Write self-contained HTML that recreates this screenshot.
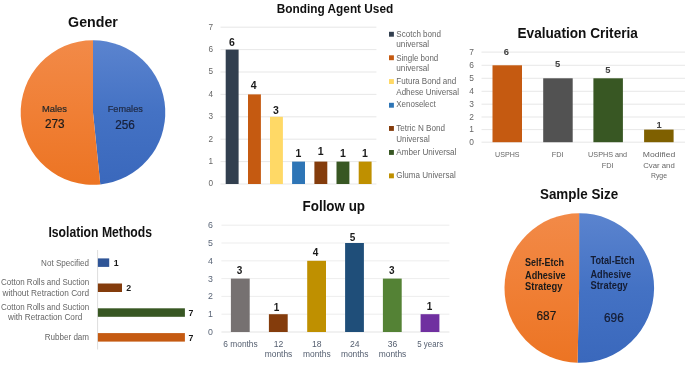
<!DOCTYPE html>
<html lang="en"><head><meta charset="utf-8"><title>Study characteristics</title>
<style>html,body{margin:0;padding:0;background:#fff;}body{width:685px;height:371px;overflow:hidden;}svg{display:block;font-family:'Liberation Sans', sans-serif;}</style>
</head><body>
<svg width="685" height="371" viewBox="0 0 685 371">
<defs>
<linearGradient id="gb" x1="0" y1="0" x2="0" y2="1"><stop offset="0" stop-color="#5B84CF"/><stop offset="0.5" stop-color="#4472C4"/><stop offset="1" stop-color="#3A68BC"/></linearGradient>
<linearGradient id="go" x1="0" y1="0" x2="0" y2="1"><stop offset="0" stop-color="#F28A48"/><stop offset="0.5" stop-color="#F07F35"/><stop offset="1" stop-color="#EC7423"/></linearGradient>
</defs>
<rect x="0" y="0" width="685" height="371" fill="#ffffff"/>
<text x="93.0" y="27.2" font-size="14.6" text-anchor="middle" fill="#111" font-weight="bold" textLength="49.8" lengthAdjust="spacingAndGlyphs">Gender</text>
<path d="M93.0,112.5 L93.0,40.2 A72.3,72.3 0 0 1 100.29,184.43 Z" fill="url(#gb)"/>
<path d="M93.0,112.5 L100.29,184.43 A72.3,72.3 0 1 1 93.0,40.2 Z" fill="url(#go)"/>
<text x="54.5" y="112.4" font-size="9.8" text-anchor="middle" fill="#2a2a2a" textLength="25.0" lengthAdjust="spacingAndGlyphs" stroke="#2a2a2a" stroke-width="0.22">Males</text>
<text x="54.8" y="127.9" font-size="12.3" text-anchor="middle" fill="#1a1a1a" textLength="19.6" lengthAdjust="spacingAndGlyphs" stroke="#1a1a1a" stroke-width="0.22">273</text>
<text x="125.3" y="112.2" font-size="9.8" text-anchor="middle" fill="#1f2a44" textLength="35.0" lengthAdjust="spacingAndGlyphs" stroke="#1f2a44" stroke-width="0.22">Females</text>
<text x="125.1" y="129.2" font-size="12.3" text-anchor="middle" fill="#17203a" textLength="19.6" lengthAdjust="spacingAndGlyphs" stroke="#17203a" stroke-width="0.22">256</text>
<text x="335.0" y="13.2" font-size="12.3" text-anchor="middle" fill="#111" font-weight="bold" textLength="116.5" lengthAdjust="spacingAndGlyphs">Bonding Agent Used</text>
<line x1="220.5" y1="184.0" x2="376.4" y2="184.0" stroke="#E1E1E1" stroke-width="0.8"/>
<text x="210.7" y="186.4" font-size="8.2" text-anchor="middle" fill="#666666">0</text>
<line x1="220.5" y1="161.6" x2="376.4" y2="161.6" stroke="#E1E1E1" stroke-width="0.8"/>
<text x="210.7" y="164.0" font-size="8.2" text-anchor="middle" fill="#666666">1</text>
<line x1="220.5" y1="139.2" x2="376.4" y2="139.2" stroke="#E1E1E1" stroke-width="0.8"/>
<text x="210.7" y="141.6" font-size="8.2" text-anchor="middle" fill="#666666">2</text>
<line x1="220.5" y1="116.8" x2="376.4" y2="116.8" stroke="#E1E1E1" stroke-width="0.8"/>
<text x="210.7" y="119.2" font-size="8.2" text-anchor="middle" fill="#666666">3</text>
<line x1="220.5" y1="94.4" x2="376.4" y2="94.4" stroke="#E1E1E1" stroke-width="0.8"/>
<text x="210.7" y="96.8" font-size="8.2" text-anchor="middle" fill="#666666">4</text>
<line x1="220.5" y1="72.0" x2="376.4" y2="72.0" stroke="#E1E1E1" stroke-width="0.8"/>
<text x="210.7" y="74.4" font-size="8.2" text-anchor="middle" fill="#666666">5</text>
<line x1="220.5" y1="49.6" x2="376.4" y2="49.6" stroke="#E1E1E1" stroke-width="0.8"/>
<text x="210.7" y="52.0" font-size="8.2" text-anchor="middle" fill="#666666">6</text>
<line x1="220.5" y1="27.2" x2="376.4" y2="27.2" stroke="#E1E1E1" stroke-width="0.8"/>
<text x="210.7" y="29.6" font-size="8.2" text-anchor="middle" fill="#666666">7</text>
<rect x="225.7" y="49.6" width="12.9" height="134.4" fill="#323F4F"/>
<text x="232.0" y="46.4" font-size="10.5" text-anchor="middle" fill="#1a1a1a" font-weight="bold">6</text>
<rect x="248.0" y="94.4" width="12.9" height="89.6" fill="#C55A11"/>
<text x="253.7" y="88.5" font-size="10.5" text-anchor="middle" fill="#1a1a1a" font-weight="bold">4</text>
<rect x="270.0" y="116.8" width="12.9" height="67.2" fill="#FFD966"/>
<text x="275.8" y="113.9" font-size="10.5" text-anchor="middle" fill="#1a1a1a" font-weight="bold">3</text>
<rect x="292.1" y="161.6" width="12.9" height="22.4" fill="#2E75B6"/>
<text x="298.4" y="156.6" font-size="10.5" text-anchor="middle" fill="#1a1a1a" font-weight="bold">1</text>
<rect x="314.4" y="161.6" width="12.9" height="22.4" fill="#843C0C"/>
<text x="320.7" y="155.3" font-size="10.5" text-anchor="middle" fill="#1a1a1a" font-weight="bold">1</text>
<rect x="336.5" y="161.6" width="12.9" height="22.4" fill="#385723"/>
<text x="342.8" y="156.6" font-size="10.5" text-anchor="middle" fill="#1a1a1a" font-weight="bold">1</text>
<rect x="358.7" y="161.6" width="12.9" height="22.4" fill="#BF9000"/>
<text x="365.0" y="156.6" font-size="10.5" text-anchor="middle" fill="#1a1a1a" font-weight="bold">1</text>
<rect x="389.0" y="31.8" width="4.9" height="4.9" fill="#323F4F"/>
<text x="396.3" y="36.5" font-size="8.7" text-anchor="start" fill="#666666" textLength="44.7" lengthAdjust="spacingAndGlyphs">Scotch bond</text>
<text x="396.3" y="47.0" font-size="8.7" text-anchor="start" fill="#666666" textLength="32.9" lengthAdjust="spacingAndGlyphs">universal</text>
<rect x="389.0" y="55.3" width="4.9" height="4.9" fill="#C55A11"/>
<text x="396.3" y="60.6" font-size="8.7" text-anchor="start" fill="#666666" textLength="42.0" lengthAdjust="spacingAndGlyphs">Single bond</text>
<text x="396.3" y="70.9" font-size="8.7" text-anchor="start" fill="#666666" textLength="32.9" lengthAdjust="spacingAndGlyphs">universal</text>
<rect x="389.0" y="79.1" width="4.9" height="4.9" fill="#FFD966"/>
<text x="396.3" y="84.3" font-size="8.7" text-anchor="start" fill="#666666" textLength="60.0" lengthAdjust="spacingAndGlyphs">Futura Bond and</text>
<text x="396.3" y="94.5" font-size="8.7" text-anchor="start" fill="#666666" textLength="62.8" lengthAdjust="spacingAndGlyphs">Adhese Universal</text>
<rect x="389.0" y="102.8" width="4.9" height="4.9" fill="#2E75B6"/>
<text x="396.3" y="107.1" font-size="8.7" text-anchor="start" fill="#666666" textLength="39.4" lengthAdjust="spacingAndGlyphs">Xenoselect</text>
<rect x="389.0" y="126.0" width="4.9" height="4.9" fill="#843C0C"/>
<text x="396.3" y="130.9" font-size="8.7" text-anchor="start" fill="#666666" textLength="48.7" lengthAdjust="spacingAndGlyphs">Tetric N Bond</text>
<text x="396.3" y="142.0" font-size="8.7" text-anchor="start" fill="#666666" textLength="33.4" lengthAdjust="spacingAndGlyphs">Universal</text>
<rect x="389.0" y="150.0" width="4.9" height="4.9" fill="#385723"/>
<text x="396.3" y="154.7" font-size="8.7" text-anchor="start" fill="#666666" textLength="60.0" lengthAdjust="spacingAndGlyphs">Amber Universal</text>
<rect x="389.0" y="173.4" width="4.9" height="4.9" fill="#BF9000"/>
<text x="396.3" y="177.9" font-size="8.7" text-anchor="start" fill="#666666" textLength="59.5" lengthAdjust="spacingAndGlyphs">Gluma Universal</text>
<text x="577.7" y="37.6" font-size="14.2" text-anchor="middle" fill="#111" font-weight="bold" textLength="120.4" lengthAdjust="spacingAndGlyphs">Evaluation Criteria</text>
<line x1="481.5" y1="142.2" x2="685.0" y2="142.2" stroke="#E1E1E1" stroke-width="0.8"/>
<text x="471.5" y="144.9" font-size="8.4" text-anchor="middle" fill="#666666">0</text>
<line x1="481.5" y1="129.6" x2="685.0" y2="129.6" stroke="#E1E1E1" stroke-width="0.8"/>
<text x="471.5" y="132.3" font-size="8.4" text-anchor="middle" fill="#666666">1</text>
<line x1="481.5" y1="117.0" x2="685.0" y2="117.0" stroke="#E1E1E1" stroke-width="0.8"/>
<text x="471.5" y="119.7" font-size="8.4" text-anchor="middle" fill="#666666">2</text>
<line x1="481.5" y1="104.2" x2="685.0" y2="104.2" stroke="#E1E1E1" stroke-width="0.8"/>
<text x="471.5" y="106.9" font-size="8.4" text-anchor="middle" fill="#666666">3</text>
<line x1="481.5" y1="91.3" x2="685.0" y2="91.3" stroke="#E1E1E1" stroke-width="0.8"/>
<text x="471.5" y="94.0" font-size="8.4" text-anchor="middle" fill="#666666">4</text>
<line x1="481.5" y1="78.3" x2="685.0" y2="78.3" stroke="#E1E1E1" stroke-width="0.8"/>
<text x="471.5" y="81.0" font-size="8.4" text-anchor="middle" fill="#666666">5</text>
<line x1="481.5" y1="65.3" x2="685.0" y2="65.3" stroke="#E1E1E1" stroke-width="0.8"/>
<text x="471.5" y="68.0" font-size="8.4" text-anchor="middle" fill="#666666">6</text>
<line x1="481.5" y1="52.1" x2="685.0" y2="52.1" stroke="#E1E1E1" stroke-width="0.8"/>
<text x="471.5" y="54.8" font-size="8.4" text-anchor="middle" fill="#666666">7</text>
<rect x="492.5" y="65.3" width="29.5" height="76.9" fill="#C55A11"/>
<text x="506.3" y="55.1" font-size="9.4" text-anchor="middle" fill="#404040" font-weight="bold">6</text>
<rect x="543.2" y="78.3" width="29.5" height="63.9" fill="#525252"/>
<text x="557.7" y="67.4" font-size="9.4" text-anchor="middle" fill="#404040" font-weight="bold">5</text>
<rect x="593.4" y="78.3" width="29.5" height="63.9" fill="#385723"/>
<text x="607.9" y="72.7" font-size="9.4" text-anchor="middle" fill="#404040" font-weight="bold">5</text>
<rect x="644.1" y="129.6" width="29.5" height="12.6" fill="#7F6000"/>
<text x="659.2" y="127.7" font-size="9.4" text-anchor="middle" fill="#404040" font-weight="bold">1</text>
<text x="507.3" y="157.0" font-size="8.0" text-anchor="middle" fill="#666666" textLength="24.4" lengthAdjust="spacingAndGlyphs">USPHS</text>
<text x="557.6" y="157.0" font-size="8.0" text-anchor="middle" fill="#666666" textLength="11.8" lengthAdjust="spacingAndGlyphs">FDI</text>
<text x="607.6" y="157.0" font-size="8.0" text-anchor="middle" fill="#666666" textLength="39.0" lengthAdjust="spacingAndGlyphs">USPHS and</text>
<text x="607.6" y="167.5" font-size="8.0" text-anchor="middle" fill="#666666" textLength="11.8" lengthAdjust="spacingAndGlyphs">FDI</text>
<text x="659.0" y="157.0" font-size="8.0" text-anchor="middle" fill="#666666" textLength="32.5" lengthAdjust="spacingAndGlyphs">Modified</text>
<text x="659.0" y="167.5" font-size="8.0" text-anchor="middle" fill="#666666" textLength="31.5" lengthAdjust="spacingAndGlyphs">Cvar and</text>
<text x="659.0" y="178.0" font-size="8.0" text-anchor="middle" fill="#666666" textLength="16.1" lengthAdjust="spacingAndGlyphs">Ryge</text>
<text x="100.2" y="237.3" font-size="14.2" text-anchor="middle" fill="#111" font-weight="bold" textLength="103.6" lengthAdjust="spacingAndGlyphs">Isolation Methods</text>
<line x1="97.6" y1="250.0" x2="97.6" y2="349.5" stroke="#D9D9D9" stroke-width="0.9"/>
<rect x="97.9" y="258.4" width="11.3" height="8.5" fill="#2F5597"/>
<text x="116.3" y="266.0" font-size="8.8" text-anchor="middle" fill="#1a1a1a" font-weight="bold">1</text>
<rect x="97.9" y="283.5" width="24.1" height="8.5" fill="#843C0C"/>
<text x="128.8" y="291.1" font-size="8.8" text-anchor="middle" fill="#1a1a1a" font-weight="bold">2</text>
<rect x="97.9" y="308.3" width="87.0" height="8.5" fill="#385723"/>
<text x="191.0" y="315.9" font-size="8.8" text-anchor="middle" fill="#1a1a1a" font-weight="bold">7</text>
<rect x="97.9" y="333.1" width="87.0" height="8.5" fill="#C55A11"/>
<text x="191.0" y="340.7" font-size="8.8" text-anchor="middle" fill="#1a1a1a" font-weight="bold">7</text>
<text x="89.1" y="265.7" font-size="8.2" text-anchor="end" fill="#666666" textLength="48.0" lengthAdjust="spacingAndGlyphs">Not Specified</text>
<text x="45.1" y="285.2" font-size="8.2" text-anchor="middle" fill="#666666" textLength="88.0" lengthAdjust="spacingAndGlyphs">Cotton Rolls and Suction</text>
<text x="45.8" y="295.8" font-size="8.2" text-anchor="middle" fill="#666666" textLength="86.6" lengthAdjust="spacingAndGlyphs">without Retraction Cord</text>
<text x="45.1" y="310.2" font-size="8.2" text-anchor="middle" fill="#666666" textLength="88.0" lengthAdjust="spacingAndGlyphs">Cotton Rolls and Suction</text>
<text x="45.1" y="320.3" font-size="8.2" text-anchor="middle" fill="#666666" textLength="74.2" lengthAdjust="spacingAndGlyphs">with Retraction Cord</text>
<text x="89.1" y="340.3" font-size="8.2" text-anchor="end" fill="#666666" textLength="44.4" lengthAdjust="spacingAndGlyphs">Rubber dam</text>
<text x="333.8" y="210.9" font-size="14.4" text-anchor="middle" fill="#111" font-weight="bold" textLength="62.5" lengthAdjust="spacingAndGlyphs">Follow up</text>
<line x1="221.4" y1="332.0" x2="449.4" y2="332.0" stroke="#DCDCDC" stroke-width="0.8"/>
<text x="210.5" y="335.0" font-size="8.8" text-anchor="middle" fill="#5A6577">0</text>
<line x1="221.4" y1="314.2" x2="449.4" y2="314.2" stroke="#E8E8E8" stroke-width="0.8"/>
<text x="210.5" y="317.2" font-size="8.8" text-anchor="middle" fill="#5A6577">1</text>
<line x1="221.4" y1="296.4" x2="449.4" y2="296.4" stroke="#E8E8E8" stroke-width="0.8"/>
<text x="210.5" y="299.4" font-size="8.8" text-anchor="middle" fill="#5A6577">2</text>
<line x1="221.4" y1="278.6" x2="449.4" y2="278.6" stroke="#E8E8E8" stroke-width="0.8"/>
<text x="210.5" y="281.6" font-size="8.8" text-anchor="middle" fill="#5A6577">3</text>
<line x1="221.4" y1="260.8" x2="449.4" y2="260.8" stroke="#E8E8E8" stroke-width="0.8"/>
<text x="210.5" y="263.8" font-size="8.8" text-anchor="middle" fill="#5A6577">4</text>
<line x1="221.4" y1="243.0" x2="449.4" y2="243.0" stroke="#E8E8E8" stroke-width="0.8"/>
<text x="210.5" y="246.0" font-size="8.8" text-anchor="middle" fill="#5A6577">5</text>
<line x1="221.4" y1="225.2" x2="449.4" y2="225.2" stroke="#E8E8E8" stroke-width="0.8"/>
<text x="210.5" y="228.2" font-size="8.8" text-anchor="middle" fill="#5A6577">6</text>
<rect x="230.9" y="278.6" width="18.8" height="53.4" fill="#767171"/>
<text x="239.5" y="273.8" font-size="10" text-anchor="middle" fill="#1a1a1a" font-weight="bold">3</text>
<rect x="268.9" y="314.2" width="18.8" height="17.8" fill="#843C0C"/>
<text x="276.6" y="310.6" font-size="10" text-anchor="middle" fill="#1a1a1a" font-weight="bold">1</text>
<rect x="307.2" y="260.8" width="18.8" height="71.2" fill="#BF9000"/>
<text x="315.6" y="256.0" font-size="10" text-anchor="middle" fill="#1a1a1a" font-weight="bold">4</text>
<rect x="345.1" y="243.0" width="18.8" height="89.0" fill="#1F4E79"/>
<text x="352.6" y="240.9" font-size="10" text-anchor="middle" fill="#1a1a1a" font-weight="bold">5</text>
<rect x="382.9" y="278.6" width="18.8" height="53.4" fill="#548235"/>
<text x="391.7" y="273.9" font-size="10" text-anchor="middle" fill="#1a1a1a" font-weight="bold">3</text>
<rect x="420.6" y="314.2" width="18.8" height="17.8" fill="#7030A0"/>
<text x="429.6" y="309.6" font-size="10" text-anchor="middle" fill="#1a1a1a" font-weight="bold">1</text>
<text x="240.5" y="346.6" font-size="8.6" text-anchor="middle" fill="#566071" textLength="34.4" lengthAdjust="spacingAndGlyphs">6 months</text>
<text x="278.5" y="346.6" font-size="8.6" text-anchor="middle" fill="#566071">12</text>
<text x="278.5" y="356.8" font-size="8.6" text-anchor="middle" fill="#566071" textLength="27.6" lengthAdjust="spacingAndGlyphs">months</text>
<text x="316.8" y="346.6" font-size="8.6" text-anchor="middle" fill="#566071">18</text>
<text x="316.8" y="356.8" font-size="8.6" text-anchor="middle" fill="#566071" textLength="27.6" lengthAdjust="spacingAndGlyphs">months</text>
<text x="354.7" y="346.6" font-size="8.6" text-anchor="middle" fill="#566071">24</text>
<text x="354.7" y="356.8" font-size="8.6" text-anchor="middle" fill="#566071" textLength="27.6" lengthAdjust="spacingAndGlyphs">months</text>
<text x="392.5" y="346.6" font-size="8.6" text-anchor="middle" fill="#566071">36</text>
<text x="392.5" y="356.8" font-size="8.6" text-anchor="middle" fill="#566071" textLength="27.6" lengthAdjust="spacingAndGlyphs">months</text>
<text x="430.2" y="346.6" font-size="8.6" text-anchor="middle" fill="#566071" textLength="25.9" lengthAdjust="spacingAndGlyphs">5 years</text>
<text x="579.1" y="199.4" font-size="14.2" text-anchor="middle" fill="#111" font-weight="bold" textLength="78.3" lengthAdjust="spacingAndGlyphs">Sample Size</text>
<path d="M579.1,288.0 L579.1,213.2 A74.8,74.8 0 1 1 577.57,362.78 Z" fill="url(#gb)"/>
<path d="M579.1,288.0 L577.57,362.78 A74.8,74.8 0 0 1 579.1,213.2 Z" fill="url(#go)"/>
<text x="525.1" y="265.8" font-size="10.3" text-anchor="start" fill="#1a1a1a" font-weight="bold" textLength="38.9" lengthAdjust="spacingAndGlyphs">Self-Etch</text>
<text x="525.1" y="279.0" font-size="10.3" text-anchor="start" fill="#1a1a1a" font-weight="bold" textLength="40.5" lengthAdjust="spacingAndGlyphs">Adhesive</text>
<text x="525.1" y="290.4" font-size="10.3" text-anchor="start" fill="#1a1a1a" font-weight="bold" textLength="37.3" lengthAdjust="spacingAndGlyphs">Strategy</text>
<text x="590.5" y="264.4" font-size="10.3" text-anchor="start" fill="#141c33" font-weight="bold" textLength="44.0" lengthAdjust="spacingAndGlyphs">Total-Etch</text>
<text x="590.5" y="277.8" font-size="10.3" text-anchor="start" fill="#141c33" font-weight="bold" textLength="40.7" lengthAdjust="spacingAndGlyphs">Adhesive</text>
<text x="590.5" y="288.8" font-size="10.3" text-anchor="start" fill="#141c33" font-weight="bold" textLength="37.3" lengthAdjust="spacingAndGlyphs">Strategy</text>
<text x="546.4" y="320.1" font-size="12.5" text-anchor="middle" fill="#1a1a1a" textLength="19.7" lengthAdjust="spacingAndGlyphs" stroke="#1a1a1a" stroke-width="0.22">687</text>
<text x="613.9" y="322.2" font-size="12.5" text-anchor="middle" fill="#141c33" textLength="19.7" lengthAdjust="spacingAndGlyphs" stroke="#141c33" stroke-width="0.22">696</text>
</svg></body></html>
